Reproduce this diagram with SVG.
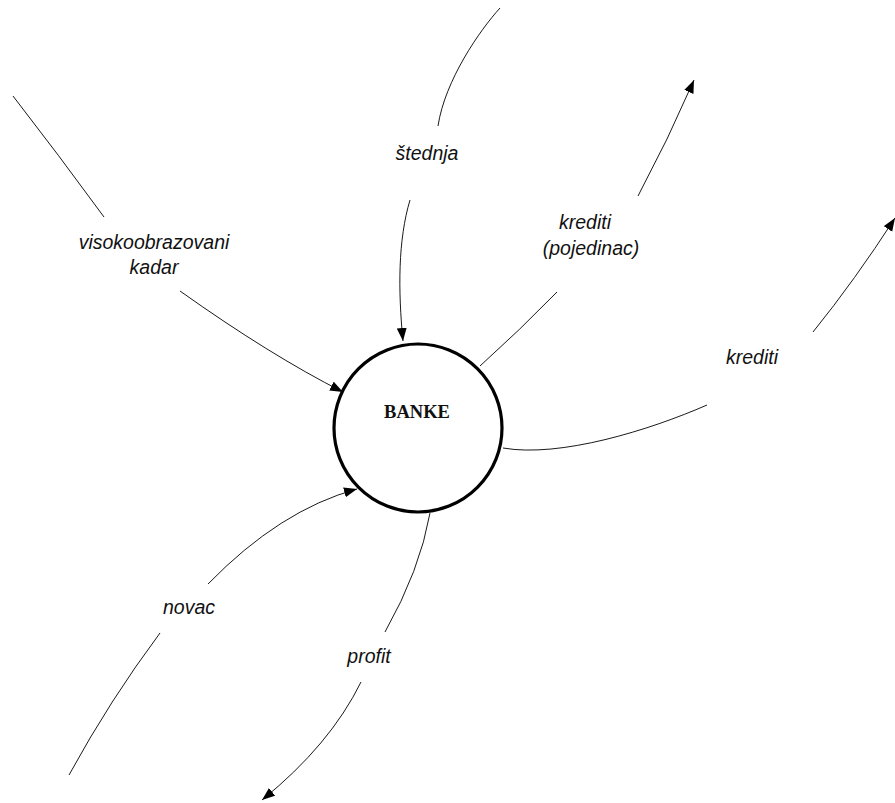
<svg xmlns="http://www.w3.org/2000/svg" width="895" height="803" viewBox="0 0 895 803">
<style>
.c{fill:none;stroke:#000;stroke-width:0.9}
.l{font-family:"Liberation Sans",Arial,sans-serif;font-style:italic;font-size:19.5px;fill:#111;text-anchor:middle}
.n{font-family:"Liberation Serif","Times New Roman",serif;font-weight:bold;font-size:18.5px;fill:#111;text-anchor:middle}
</style>
<defs>
<marker id="a" markerUnits="userSpaceOnUse" markerWidth="14" markerHeight="12" refX="13" refY="5" orient="auto">
<path d="M0,0 L13,5 L0,10 Z" fill="#000"/>
</marker>
</defs>
<rect width="895" height="803" fill="#fff"/>
<g id="connectors">
<path class="c" d="M13,96 Q58,154 104,217"/>
<path class="c" d="M180,291 Q270,355 343,392" marker-end="url(#a)"/>
<path class="c" d="M500,8 C480,30 445,80 438,126"/>
<path class="c" d="M410,200 C398,240 398,290 403,341" marker-end="url(#a)"/>
<path class="c" d="M480,366 Q520,330 557,292"/>
<path class="c" d="M638,196 Q668,140 694,80" marker-end="url(#a)"/>
<path class="c" d="M503,448 C560,458 650,430 707,405"/>
<path class="c" d="M813,332 Q855,280 895,218" marker-end="url(#a)"/>
<path class="c" d="M69,775 Q110,700 160,633"/>
<path class="c" d="M208,584 Q280,510 357,489" marker-end="url(#a)"/>
<path class="c" d="M430,513 Q420,570 385,632"/>
<path class="c" d="M361,682 Q330,745 262,800" marker-end="url(#a)"/>
</g>
<g id="banke">
<circle cx="418" cy="428" r="84" fill="#fff" stroke="#000" stroke-width="3.2"/>
<text class="n" x="417" y="418">BANKE</text>
</g>
<g id="label-visokoobrazovani">
<text class="l" x="154" y="249">visokoobrazovani</text>
<text class="l" x="154" y="274">kadar</text>
</g>
<g id="label-stednja"><text class="l" x="427" y="160">štednja</text></g>
<g id="label-krediti-pojedinac">
<text class="l" x="585" y="229">krediti</text>
<text class="l" x="591" y="255">(pojedinac)</text>
</g>
<g id="label-krediti"><text class="l" x="752" y="364">krediti</text></g>
<g id="label-novac"><text class="l" x="189" y="614">novac</text></g>
<g id="label-profit"><text class="l" x="369" y="663">profit</text></g>
</svg>
